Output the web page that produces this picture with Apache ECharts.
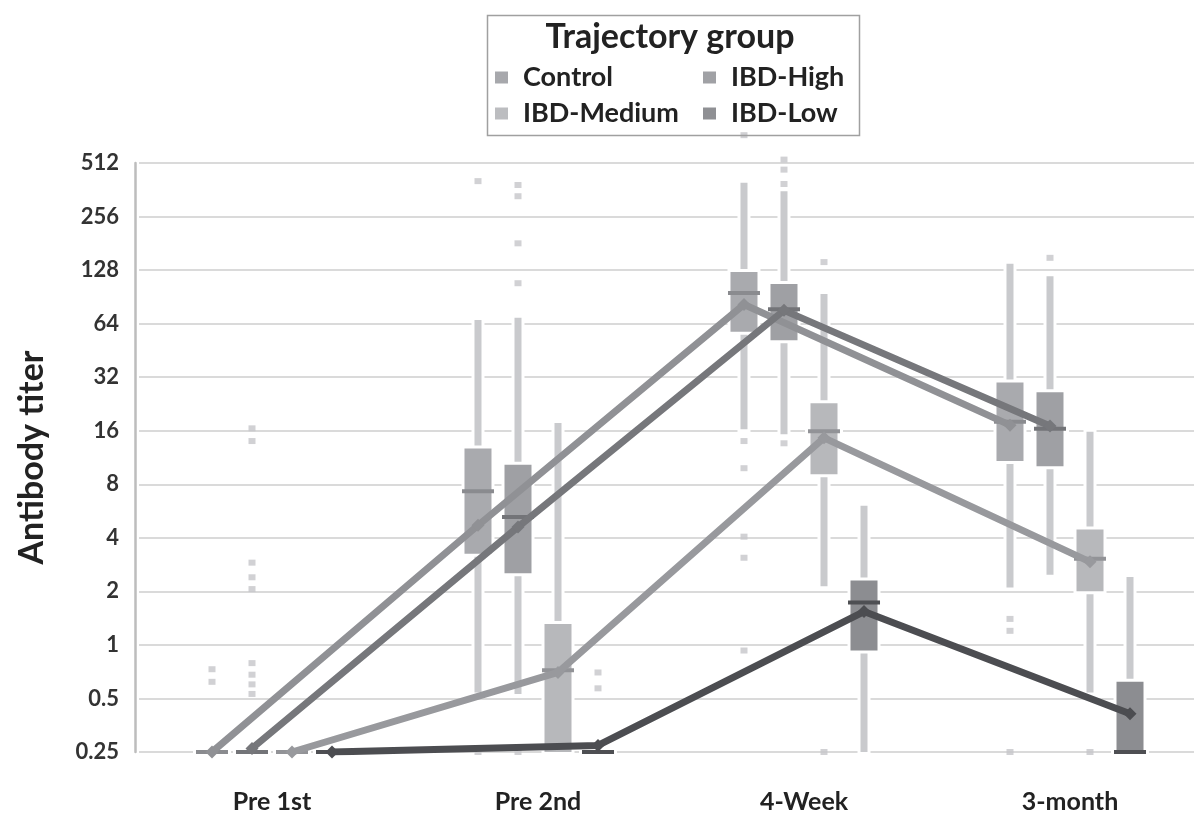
<!DOCTYPE html>
<html><head><meta charset="utf-8">
<script src="https://cdn.jsdelivr.net/npm/echarts@6/dist/echarts.min.js"></script>
<style>html,body{margin:0;padding:0;background:#fff}#c{width:1194px;height:814px}</style>
</head><body><div id="c"></div>
<script>
// ---------- data ----------
const categories = ['Pre 1st', 'Pre 2nd', '4-Week', '3-month'];
const groups = ['Control', 'IBD-High', 'IBD-Medium', 'IBD-Low'];
const yTickLabels = ['0.25', '0.5', '1', '2', '4', '8', '16', '32', '64', '128', '256', '512'];

// box stats per category: [lower whisker, Q1, median, Q3, upper whisker]
const controlBox = [[0.25, 0.25, 0.25, 0.25, 0.25], [0.54, 3.25, 7.3, 12.7, 67], [16.3, 57.6, 95, 125, 396], [2.1, 10.8, 18, 29.9, 139]];
const highBox    = [[0.25, 0.25, 0.25, 0.25, 0.25], [0.53, 2.53, 5.24, 10.3, 69], [15.3, 51.6, 77, 107, 355], [2.48, 10.1, 16.4, 26.3, 118]];
const mediumBox  = [[0.25, 0.25, 0.25, 0.25, 0.25], [0.25, 0.25, 0.72, 1.31, 17.7], [2.14, 9.1, 15.9, 22.8, 94], [0.54, 2.0, 3.05, 4.45, 15.8]];
const lowBox     = [[0.25, 0.25, 0.25, 0.25, 0.25], [0.25, 0.25, 0.25, 0.25, 0.25], [0.25, 0.93, 1.73, 2.3, 6.06], [0.25, 0.25, 0.25, 0.62, 2.41]];

// mean trajectory per category
const controlMean = [0.25, 4.7, 82, 17.2];
const highMean    = [0.262, 4.6, 76, 17.0];
const mediumMean  = [0.25, 0.70, 14.6, 2.93];
const lowMean     = [0.25, 0.272, 1.54, 0.41];

// outliers: [category index, titer]
const controlOut = [[0, 0.73], [0, 0.62], [1, 405], [1, 0.25], [2, 734], [2, 14], [2, 9.85], [2, 4.06], [2, 3.09], [2, 0.93], [3, 1.4], [3, 1.2], [3, 0.25]];
const highOut    = [[0, 16.5], [0, 14], [0, 2.9], [0, 2.4], [0, 2.06], [0, 0.79], [0, 0.68], [0, 0.6], [0, 0.53], [1, 385], [1, 333], [1, 181], [1, 108], [1, 0.25], [2, 535], [2, 470], [2, 390], [2, 13.6], [3, 150]];
const mediumOut  = [[2, 142], [2, 0.25], [3, 0.25]];
const lowOut     = [[1, 0.7], [1, 0.57]];

// ---------- styling ----------
const boxes = [controlBox, highBox, mediumBox, lowBox];
const means = [controlMean, highMean, mediumMean, lowMean];
const outs = [controlOut, highOut, mediumOut, lowOut];
const groupOffset = [-0.2256, -0.0752, 0.0752, 0.2256];
const boxColor = ['#a9aaae', '#9fa0a4', '#b7b8bb', '#8c8d91'];
const legendColor = ['#a7a8ac', '#a0a1a5', '#bcbdc0', '#8f9094'];
const medianColor = ['#8a8b8f', '#737478', '#929397', '#4e4f53'];
const lineColor = ['#909195', '#76777b', '#98999d', '#4c4d51'];
const whiskerColor = '#c9cacd';
const outlierColor = '#c5c6c9';
const FONT = 'Lato, "Open Sans", sans-serif';

const lg = v => Math.log2(v);

function makeRender(gi) {
  return function (params, api) {
    const x = api.value(0);
    const pLow = api.coord([x, api.value(1)]);
    const pQ1 = api.coord([x, api.value(2)]);
    const pMed = api.coord([x, api.value(3)]);
    const pQ3 = api.coord([x, api.value(4)]);
    const pHigh = api.coord([x, api.value(5)]);
    const cx = pMed[0];
    const bw = 27, ww = 7, mw = 32, mh = 4, halo = 3;
    const ch = [];
    const wh = pLow[1] - pHigh[1];
    if (wh > 0.5) {
      ch.push({ type: 'rect', shape: { x: cx - ww / 2 - halo, y: pHigh[1] - halo, width: ww + 2 * halo, height: wh + 2 * halo }, style: { fill: '#fff' } });
      ch.push({ type: 'rect', shape: { x: cx - ww / 2, y: pHigh[1], width: ww, height: wh }, style: { fill: whiskerColor } });
    }
    ch.push({ type: 'rect', shape: { x: cx - mw / 2 - halo, y: pMed[1] - mh / 2 - halo, width: mw + 2 * halo, height: mh + 2 * halo }, style: { fill: '#fff' } });
    const bh = pQ1[1] - pQ3[1];
    if (bh > 0.5) {
      ch.push({ type: 'rect', shape: { x: cx - bw / 2 - halo, y: pQ3[1] - halo, width: bw + 2 * halo, height: bh + 2 * halo }, style: { fill: '#fff' } });
      ch.push({ type: 'rect', shape: { x: cx - bw / 2, y: pQ3[1], width: bw, height: bh }, style: { fill: boxColor[gi] } });
    }
    ch.push({ type: 'rect', shape: { x: cx - mw / 2, y: pMed[1] - mh / 2, width: mw, height: mh }, style: { fill: medianColor[gi] } });
    return { type: 'group', children: ch };
  };
}

const series = [];
groups.forEach((g, gi) => {
  series.push({
    name: g, type: 'custom', xAxisIndex: 1, yAxisIndex: 0, z: 2,
    itemStyle: { color: legendColor[gi] },
    renderItem: makeRender(gi),
    encode: { x: 0, y: [1, 2, 3, 4, 5] },
    data: boxes[gi].map((b, ci) => [ci + groupOffset[gi]].concat(b.map(lg)))
  });
});
groups.forEach((g, gi) => {
  series.push({
    name: g + ' outliers', type: 'scatter', xAxisIndex: 1, yAxisIndex: 0, z: 2, clip: false,
    symbol: 'rect', symbolSize: [7, 6], itemStyle: { color: outlierColor }, silent: true,
    data: outs[gi].map(o => [o[0] + groupOffset[gi], lg(o[1])])
  });
});
groups.forEach((g, gi) => {
  series.push({
    name: g + ' mean', type: 'line', xAxisIndex: 1, yAxisIndex: 0, z: 4,
    symbol: 'diamond', symbolSize: 13, showSymbol: true,
    lineStyle: { color: lineColor[gi], width: 7 }, itemStyle: { color: lineColor[gi] },
    data: means[gi].map((m, ci) => [ci + groupOffset[gi], lg(m)])
  });
});

const legendText = { fontSize: 27, fontWeight: 'bold', color: '#222', fontFamily: FONT, padding: [0, 0, 0, 10] };

const option = {
  animation: false,
  backgroundColor: '#fff',
  grid: { left: 139, right: -9, top: 163, bottom: 62, outerBoundsMode: 'none', containLabel: false },
  xAxis: [
    {
      type: 'category', data: categories, gridIndex: 0,
      axisLine: { show: false }, axisTick: { show: false }, splitLine: { show: false },
      axisLabel: { fontSize: 25, fontWeight: 'bold', color: '#222', margin: 37, fontFamily: FONT }
    },
    { type: 'value', min: -0.5, max: 3.5, show: false, gridIndex: 0 }
  ],
  yAxis: {
    type: 'value', min: -2, max: 9, interval: 1, offset: 4,
    name: 'Antibody titer', nameLocation: 'middle', nameGap: 86,
    nameTextStyle: { fontSize: 34, fontWeight: 'bold', color: '#222', fontFamily: FONT },
    axisLine: { show: true, onZero: false, lineStyle: { color: '#bdbdbd', width: 2.5 } },
    axisTick: { show: false },
    axisLabel: { fontSize: 22, fontWeight: 'bold', color: '#333', margin: 16, fontFamily: FONT,
      formatter: v => yTickLabels[Math.round(v) + 2] },
    splitLine: { lineStyle: { color: '#dadada', width: 2 } }
  },
  legend: [
    { left: 490, top: 59, orient: 'vertical', itemWidth: 13, itemHeight: 12, itemGap: 9, selectedMode: false, icon: 'rect',
      textStyle: legendText, data: [{ name: 'Control', itemStyle: { color: legendColor[0] } }, { name: 'IBD-Medium', itemStyle: { color: legendColor[2] } }] },
    { left: 698, top: 59, orient: 'vertical', itemWidth: 13, itemHeight: 12, itemGap: 9, selectedMode: false, icon: 'rect',
      textStyle: legendText, data: [{ name: 'IBD-High', itemStyle: { color: legendColor[1] } }, { name: 'IBD-Low', itemStyle: { color: legendColor[3] } }] }
  ],
  graphic: [
    { type: 'rect', left: 485, top: 13, shape: { width: 372, height: 120 }, style: { fill: 'none', stroke: '#a0a0a0', lineWidth: 1.5 }, z: 10 },
    { type: 'text', x: 670, y: 20, style: { text: 'Trajectory group', fontSize: 34, fontWeight: 'bold', fill: '#222', fontFamily: FONT, align: 'center' }, z: 10 }
  ],
  series: series
};
const chart = echarts.init(document.getElementById('c'), null, { renderer: 'canvas' });
chart.setOption(option);
</script></body></html>
